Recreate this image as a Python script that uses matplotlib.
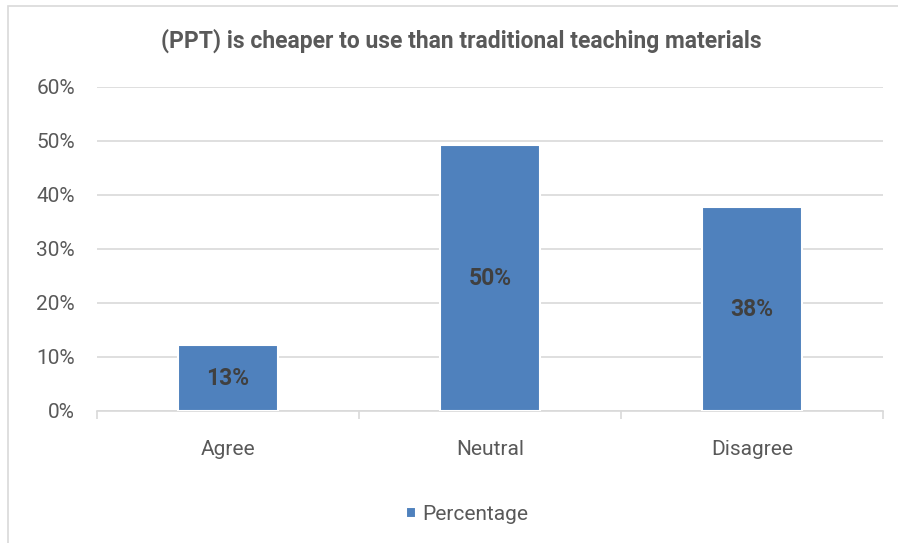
import matplotlib
matplotlib.use("Agg")
import matplotlib.pyplot as plt
from matplotlib.patches import Rectangle

plt.rcParams["font.family"] = ["Roboto", "DejaVu Sans"]

# data
categories = ["Agree", "Neutral", "Disagree"]
values = [0.122, 0.492, 0.377]
labels = ["13%", "50%", "38%"]
yticks = [0, 0.1, 0.2, 0.3, 0.4, 0.5, 0.6]
ytick_labels = ["0%", "10%", "20%", "30%", "40%", "50%", "60%"]

grey = "#595959"

fig = plt.figure(figsize=(8.98, 5.43), dpi=100)
ax = fig.add_axes([97/898, 1 - 411/543, (883 - 97)/898, (411 - 87)/543])

# outer chart frame
fig.patches.append(Rectangle((8/898, -0.1), 1.2, 1 - 6/543 + 0.1,
                             transform=fig.transFigure, fill=False,
                             edgecolor="#d9d9d9", linewidth=1.2))

x = range(len(categories))
bars = ax.bar(x, values, width=0.385, color="#4F81BD", edgecolor="white",
              linewidth=1.5, zorder=3, label="Percentage")

for b, lab in zip(bars, labels):
    ax.text(b.get_x() + b.get_width()/2, b.get_height()/2, lab,
            ha="center", va="center", fontsize=16.5, fontweight="bold",
            color="#404040", zorder=4)

ax.set_xlim(-0.5, 2.5)
ax.set_ylim(0, 0.6)
ax.set_yticks(yticks)
ax.set_yticklabels(ytick_labels)
ax.set_xticks(list(x))
ax.set_xticklabels(categories)
ax.set_xticks([-0.5, 0.5, 1.5, 2.5], minor=True)

ax.grid(axis="y", color="#d9d9d9", linewidth=1.2, zorder=0)
for s in ["top", "right", "left"]:
    ax.spines[s].set_visible(False)
ax.spines["bottom"].set_color("#d9d9d9")
ax.spines["bottom"].set_linewidth(1.2)

ax.tick_params(axis="y", length=0, labelsize=15, labelcolor=grey, pad=16)
ax.tick_params(axis="x", which="major", length=0, labelsize=15,
               labelcolor=grey, pad=21)
ax.tick_params(axis="x", which="minor", length=6, color="#d9d9d9", width=1.2)

ax.set_title("(PPT) is cheaper to use than traditional teaching materials",
             fontsize=16.5, fontweight="bold", color=grey, pad=28, x=0.463)

ax.legend(loc="upper center", bbox_to_anchor=(0.471, -0.232), frameon=False,
          fontsize=15, labelcolor=grey, handlelength=0.5, handleheight=0.5,
          handletextpad=0.3)

plt.savefig("out.png", dpi=100)
